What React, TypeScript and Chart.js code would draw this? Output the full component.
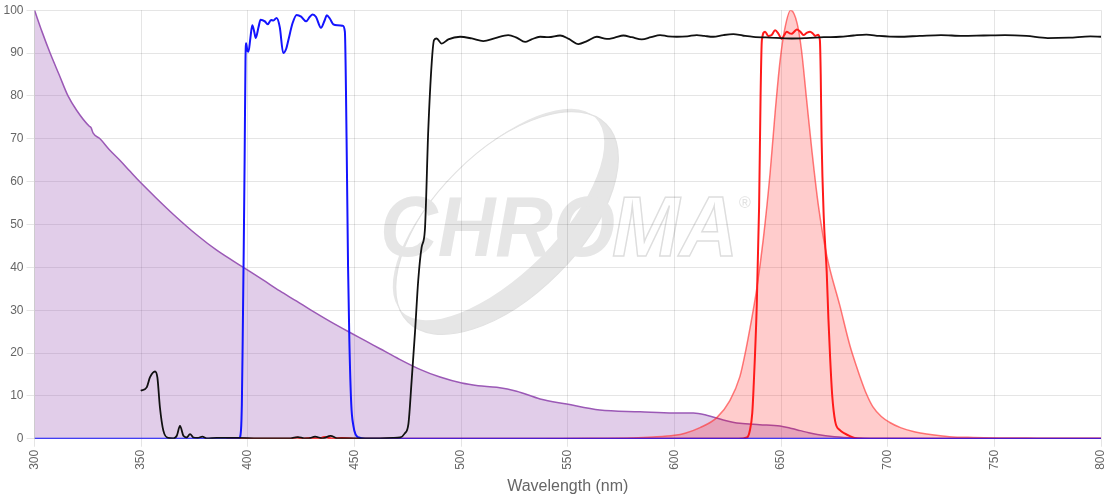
import React, { useEffect, useRef } from "react";
import { Chart, registerables } from "chart.js";

Chart.register(...registerables);

// ---- Data ----
const xTicksMin = 300;
const xTicksMax = 800;
const xTickStep = 50;
const yTicksMin = 0;
const yTicksMax = 100;
const yTickStep = 10;

const purpleWavelengths = [300, 303.5, 307.3, 311.5, 315.7, 319.8, 325.7, 326.5, 327.5, 330.7, 335, 340, 344.8, 349.5, 357, 365, 376, 385.4, 397.9, 407.3, 415, 422.9, 430, 438.5, 447.9, 455, 462, 469.8, 480.7, 490.1, 500.3, 508, 516.7, 526, 537, 549.5, 565, 583.9, 599.5, 608.9, 615.1, 622.9, 630.7, 640, 649.5, 655, 659, 663, 667, 675, 685, 700, 750, 800];
const purpleValues = [100, 95, 90, 85, 80, 76.6, 72.9, 72.6, 71.3, 70, 67.5, 65, 62.4, 59.9, 56.2, 52.4, 47.6, 44, 40, 37, 34.5, 32.1, 29.9, 27.4, 24.8, 22.9, 21, 18.9, 16.2, 14.4, 13.0, 12.4, 12, 11.1, 9.3, 8.1, 6.7, 6.3, 6.0, 6.0, 5.5, 4.4, 3.6, 3.3, 3.0, 2.4, 1.9, 1.4, 1.0, 0.5, 0.2, 0.05, 0, 0];

const blueWavelengths = [300, 390, 396, 396.8, 397.2, 397.6, 398.1, 398.5, 398.9, 399.2, 399.8, 400.3, 401.2, 402.1, 403, 403.7, 405, 406, 408, 409.3, 410.9, 412, 413.5, 415, 416.6, 418, 419, 421, 422.9, 425, 427.3, 429, 430.4, 432, 434.3, 436, 437, 438.5, 440.1, 442, 444.5, 445.5, 446.3, 447, 447.6, 448.5, 449.5, 450.5, 452, 455, 800];
const blueValues = [0, 0, 0.2, 2, 8, 23, 45, 65, 88, 92.3, 90.5, 90.3, 93.5, 96.5, 95, 93.5, 96, 97.8, 97.4, 96.7, 97.7, 97.6, 98.2, 96, 90, 91, 93, 97, 98.9, 98.5, 97.4, 98.4, 99, 98.4, 95.9, 97.6, 98.8, 98, 96.7, 96.5, 96.4, 95, 70, 40, 23, 8, 3, 1, 0.3, 0, 0];

const blackWavelengths = [349.8, 352.6, 354.1, 356.5, 357.6, 358.8, 360.4, 362.7, 365.1, 366.7, 368.2, 369.8, 371.4, 372.9, 374.5, 376.5, 378.7, 380.7, 385.4, 394.8, 405, 415, 420, 423.5, 426.5, 428.5, 431.5, 435, 438.8, 442, 450, 460, 468, 471.4, 473.5, 475.3, 476.8, 478.4, 479.9, 481.5, 483, 484.6, 486.2, 487.3, 488.5, 490.9, 494, 499.5, 505, 510.4, 516, 522.1, 526, 530, 533, 537, 541, 546.4, 550.5, 555, 559, 563.6, 568.3, 572, 576.1, 580, 584.7, 589, 593.3, 597, 601.1, 606, 610.5, 614, 618.2, 623, 627.6, 632, 637, 645, 655, 662, 670, 677.6, 684, 690, 696, 705, 715, 725, 735, 745, 755, 765, 775, 785, 795, 800];
const blackValues = [11.2, 12, 14.3, 15.7, 14.3, 7.3, 1.9, 0.2, 0.1, 0.7, 3, 0.7, 0.3, 1.1, 0.3, 0.2, 0.5, 0.1, 0.2, 0.2, 0.1, 0.1, 0.1, 0.4, 0.1, 0.1, 0.5, 0.1, 0.7, 0.1, 0.1, 0.1, 0.2, 0.3, 1.2, 3.5, 13.5, 25, 37, 44.7, 48.6, 72, 87.6, 93, 93.4, 92.2, 93.2, 93.8, 93.4, 92.8, 93.5, 94.2, 93.6, 92.6, 93.2, 93.8, 93.7, 94.1, 93.3, 92.1, 92.8, 93.8, 93.3, 93.6, 94.1, 93.7, 93.2, 93.7, 94.2, 93.9, 93.8, 93.9, 94.2, 94, 93.8, 94.2, 94.4, 94.1, 93.8, 93.6, 93.4, 93.5, 93.7, 93.8, 94.1, 94.3, 94, 93.8, 94, 94.2, 94, 94.1, 94.2, 94, 93.5, 93.6, 93.9, 93.8];

const redFilterWavelengths = [390, 420, 423, 426, 430, 433, 436, 440, 444, 450, 600, 630, 634, 635.4, 636.5, 637.1, 638.6, 639.7, 640.4, 641, 642.5, 644, 645.6, 647.2, 648.8, 650.3, 651.5, 652.6, 654, 655, 656.2, 657.4, 659, 660.5, 662, 663.6, 665, 666, 667.4, 668.2, 668.6, 669, 670, 671.4, 672.2, 673, 674, 675.4, 677.6, 680, 682.3, 685, 690, 800];
const redFilterValues = [0, 0, 0.3, 0, 0.2, 0, 0.4, 0, 0.2, 0, 0, 0, 0.3, 2, 6, 11.7, 31, 54, 80, 93, 95, 94, 94.2, 95.3, 94.5, 93.3, 94.2, 95, 94.6, 94.5, 95, 95.5, 95, 94.2, 94.7, 95, 94.5, 94, 94.3, 93, 85, 70, 52, 39, 28, 19, 10, 4, 2, 1.2, 0.6, 0.1, 0, 0];

const redEmissionWavelengths = [540, 560, 580, 590, 600, 605, 612, 620, 626, 630.7, 633, 635.4, 638.6, 641.7, 644.9, 647.2, 649.5, 651.5, 654.5, 657.5, 659.5, 662, 664.5, 667.5, 671.4, 677.6, 682.3, 685.5, 687, 690, 693, 697, 701, 706, 712, 720, 729, 740, 752, 770, 800];
const redEmissionValues = [0, 0.05, 0.2, 0.4, 0.8, 1.3, 2.6, 5, 8.9, 14.5, 19.5, 25.7, 35, 46.7, 62.2, 76, 88, 95, 100, 97, 91, 79, 67, 54.4, 42.8, 31, 21.7, 16.7, 14.5, 10.5, 7.5, 5.2, 3.8, 2.6, 1.7, 1.0, 0.5, 0.3, 0.2, 0.15, 0.1];

const xAxisTitle = "Wavelength (nm)";
const watermarkMain = "CHRO";
const watermarkTail = "MA";
const watermarkMark = "®";

function toPoints(xs: number[], ys: number[]) {
  return xs.map((x, i) => ({ x, y: ys[i] }));
}

const watermarkPlugin = {
  id: "chromaWatermark",
  beforeDraw(chart: any) {
    const ctx: CanvasRenderingContext2D = chart.ctx;
    ctx.save();
    // swoosh ellipse
    const cx = 507;
    const cy = 223;
    const rot = -Math.PI / 4;
    ctx.fillStyle = "#e6e6e6";
    ctx.beginPath();
    ctx.ellipse(cx, cy, 140, 72, rot, 0, Math.PI * 2);
    const off = 12;
    const ix = cx - off * Math.cos(rot + Math.PI / 2);
    const iy = cy - off * Math.sin(rot + Math.PI / 2);
    ctx.ellipse(ix, iy, 137, 60, rot, 0, Math.PI * 2);
    ctx.fill("evenodd");
    ctx.strokeStyle = "#e2e2e2";
    ctx.lineWidth = 1.2;
    ctx.beginPath();
    ctx.ellipse(cx, cy, 140, 72, rot, 0, Math.PI * 2);
    ctx.stroke();

    // text
    ctx.font = "italic bold 86px 'Liberation Sans', Arial, sans-serif";
    ctx.textBaseline = "alphabetic";
    ctx.textAlign = "left";
    ctx.fillStyle = "#e6e6e6";
    ctx.fillText(watermarkMain, 380, 256, 235);
    ctx.strokeStyle = "#dedede";
    ctx.lineWidth = 1.5;
    ctx.strokeText(watermarkTail, 612, 256, 126);
    ctx.font = "16px 'Liberation Sans', Arial, sans-serif";
    ctx.fillStyle = "#e2e2e2";
    ctx.fillText(watermarkMark, 739, 208);
    ctx.restore();
  },
};

export default function App() {
  const canvasRef = useRef<HTMLCanvasElement | null>(null);

  useEffect(() => {
    if (!canvasRef.current) return;
    const chart = new Chart(canvasRef.current, {
      type: "line",
      data: {
        datasets: [
          {
            label: "Long pass",
            data: toPoints(blackWavelengths, blackValues),
            borderColor: "#111111",
            borderWidth: 1.8,
            pointRadius: 0,
            fill: false,
            cubicInterpolationMode: "monotone",
            order: 0,
          },
          {
            label: "Excitation filter",
            data: toPoints(blueWavelengths, blueValues),
            borderColor: "#1414ff",
            borderWidth: 2,
            pointRadius: 0,
            fill: false,
            cubicInterpolationMode: "monotone",
            order: 1,
          },
          {
            label: "Emission filter",
            data: toPoints(redFilterWavelengths, redFilterValues),
            borderColor: "#ff1a1a",
            borderWidth: 2,
            pointRadius: 0,
            fill: false,
            cubicInterpolationMode: "monotone",
            order: 2,
          },
          {
            label: "Emission",
            data: toPoints(redEmissionWavelengths, redEmissionValues),
            borderColor: "rgba(255,50,50,0.65)",
            backgroundColor: "rgba(255,0,0,0.2)",
            borderWidth: 1.5,
            pointRadius: 0,
            fill: "origin",
            cubicInterpolationMode: "monotone",
            order: 3,
          },
          {
            label: "Excitation",
            data: toPoints(purpleWavelengths, purpleValues),
            borderColor: "#9b59b6",
            backgroundColor: "rgba(155,89,182,0.3)",
            borderWidth: 1.5,
            pointRadius: 0,
            fill: "origin",
            cubicInterpolationMode: "monotone",
            order: 4,
          },
        ],
      },
      options: {
        animation: false,
        responsive: true,
        maintainAspectRatio: false,
        layout: { padding: { top: 3, left: 0.5, right: 19, bottom: 0 } },
        plugins: {
          legend: { display: false },
          tooltip: { enabled: false },
        },
        scales: {
          x: {
            type: "linear",
            min: xTicksMin,
            max: xTicksMax,
            ticks: {
              stepSize: xTickStep,
              minRotation: 90,
              maxRotation: 90,
              color: "#666",
              font: { size: 12 },
            },
            title: {
              display: true,
              text: xAxisTitle,
              color: "#666",
              font: { size: 16 },
            },
          },
          y: {
            type: "linear",
            min: yTicksMin,
            max: yTicksMax,
            ticks: { stepSize: yTickStep, color: "#666", font: { size: 12 } },
          },
        },
      },
      plugins: [watermarkPlugin],
    });
    return () => chart.destroy();
  }, []);

  return (
    <div style={{ position: "absolute", left: 0, top: 0, width: 1120, height: 500 }}>
      <canvas ref={canvasRef} />
    </div>
  );
}
